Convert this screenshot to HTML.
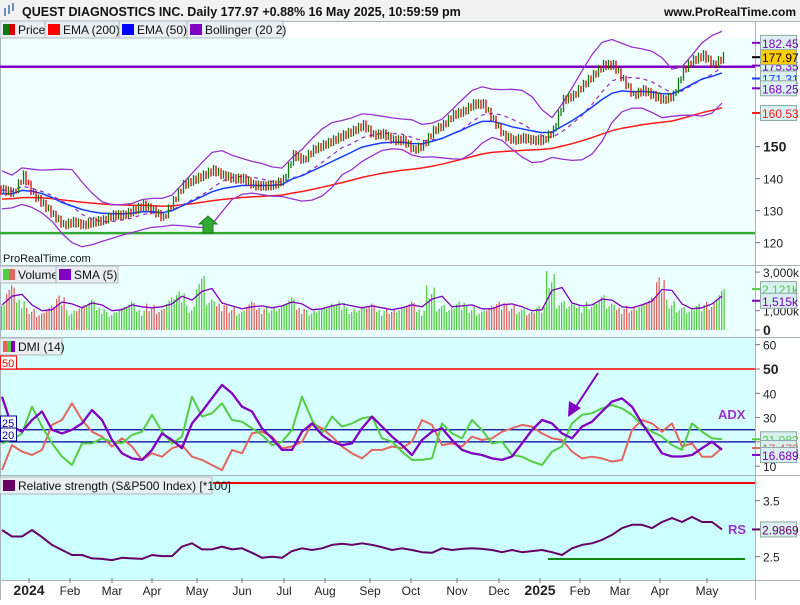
<!DOCTYPE html>
<html><head><meta charset="utf-8">
<style>
body{margin:0;background:#fff;font-family:"Liberation Sans",sans-serif;}
svg text{font-family:"Liberation Sans",sans-serif;}
</style></head>
<body>
<svg id="c" width="800" height="600" xmlns="http://www.w3.org/2000/svg">
<rect x="0" y="0" width="800" height="600" fill="#fff"/>
<rect x="0" y="0" width="800" height="21" fill="#f2f2f2"/>
<g><rect x="4" y="8" width="2" height="8" fill="#6a8fc0"/><rect x="8" y="5" width="2" height="9" fill="#6a8fc0"/><rect x="12" y="3" width="2" height="8" fill="#6a8fc0"/></g>
<text x="22" y="16" font-size="12.5" font-weight="bold" fill="#111">QUEST DIAGNOSTICS INC. Daily 177.97 +0.88% 16 May 2025, 10:59:59 pm</text>
<text x="796" y="16" font-size="12" font-weight="bold" text-anchor="end" fill="#111">www.ProRealTime.com</text>
<rect x="0" y="38" width="755" height="228" fill="#f0ffff"/>
<rect x="0" y="266" width="755" height="72" fill="#eaffff"/>
<rect x="0" y="338" width="755" height="138" fill="#d6ffff"/>
<rect x="0" y="476" width="755" height="104" fill="#ccffff"/>
<g stroke="#a8b4b8" stroke-width="1"><line x1="0" y1="265.5" x2="800" y2="265.5"/><line x1="0" y1="337.5" x2="800" y2="337.5"/><line x1="0" y1="475.5" x2="800" y2="475.5"/><line x1="0" y1="580.5" x2="800" y2="580.5"/><line x1="755.5" y1="21" x2="755.5" y2="600"/><line x1="0.5" y1="21" x2="0.5" y2="600"/><line x1="0" y1="21.5" x2="800" y2="21.5"/></g>
<g id="plot"></g>
<g id="axes"></g>
</svg>
<script>
// ---- data ----
const priceClose=[136.5,135.5,141,135,132,128.6,125.5,126.5,125.5,126.5,127,128.6,128.6,130,131.8,130,127.7,133,138,139.6,141,142.7,141,140,140,138,137.7,138,139.6,147.4,145.8,149,150.5,152,153.6,155,156.8,153.6,154,152,152,149,150.5,155,156.8,160,161,163.3,163.3,158.3,153.6,152,152.7,152,152,155,164.6,166,169.3,172.4,175.5,175.5,170.8,166,167.7,166,164.6,166,174,177,178.6,175.5,177.97];
const volumeK=[1300,2200,1500,1100,900,1200,1700,1000,1300,1500,1100,900,1200,1400,1000,1300,1100,1600,1900,1200,2800,1500,1300,1200,1000,1400,1100,1200,1300,1600,1100,1000,1200,1300,1400,1100,1200,1300,1000,1100,1200,1400,1000,2200,1300,1100,1400,1200,1000,1200,1400,1300,1100,900,1200,2900,1500,1300,1200,1400,1800,1300,1100,1200,1400,1600,2600,1500,1200,1000,1300,1400,2121];
const adx=[38.6,26.3,24.2,29,32.5,25,23.5,25,27.6,33.1,29,20.8,15.3,13.2,12.6,16.7,23.5,20.8,17.4,27.6,32.5,38,43.4,40,34.5,32.5,25.6,21.5,16.7,16.7,24.2,27.6,22.9,20.1,18.7,19.4,25.6,30.4,26.3,22.2,18.7,14.6,20.8,24.2,25.6,20.8,16.7,15.3,14.6,13.2,12.6,14,19.4,24.9,29,27.6,23.5,21.5,26.3,28.3,32.5,36.6,37.9,34.5,27.6,21.5,15.3,14,14,14.6,17.4,20.1,16.689];
const plusDI=[19.4,20.8,23.5,34.5,26.3,19.4,14,10.5,19.4,19.4,21.5,20.1,19.4,22.9,24.2,31.1,24.2,19.4,22.2,38.6,30.4,31.8,35.9,29,28.3,25.6,22.9,18.7,20.1,24.9,38.6,29,23.5,30.4,26.3,27.6,29.7,30.4,21.5,20.1,16,12.6,12.6,13.2,27.6,23.5,21.5,29,24.9,19.4,20.1,14.6,13.9,11.9,10.5,16,18.1,27.6,31.1,31.8,33.8,35.2,33.8,31.1,27,24.2,22.2,18.7,16.7,27.6,24.2,21.5,21.082];
const minusDI=[8.4,18.7,16,14.6,16.7,27,29,35.9,29,24.2,22.2,18.1,21.5,18.1,12.6,15.3,13.9,17.4,18.7,13.9,12.6,10.5,8.4,16.7,15.3,23.5,24.2,22.2,17.4,18.1,20.1,27.6,25.6,22.2,18.1,15.3,13.2,16.7,16.7,18.1,17.4,20.1,29,27,18.7,19.4,18.1,22.2,20.8,21.5,24.2,25.6,27,26.3,23.5,21.5,20.8,16,13.2,13.9,13.2,11.9,12.6,24.9,29,27.6,24.2,27.6,18.1,19.4,13.9,13.9,17.478];
const relStrength=[2.977,2.86,2.86,2.977,2.85,2.71,2.62,2.53,2.53,2.47,2.46,2.44,2.48,2.47,2.46,2.53,2.51,2.51,2.68,2.74,2.63,2.63,2.68,2.63,2.65,2.57,2.48,2.5,2.48,2.6,2.65,2.62,2.65,2.71,2.73,2.71,2.74,2.71,2.67,2.62,2.65,2.62,2.58,2.57,2.65,2.62,2.64,2.65,2.64,2.62,2.58,2.62,2.58,2.6,2.62,2.58,2.53,2.65,2.71,2.74,2.8,2.89,3.01,3.07,3.07,3.01,3.12,3.19,3.12,3.21,3.12,3.12,2.9869];
const monthLabels=["2024","Feb","Mar","Apr","May","Jun","Jul","Aug","Sep","Oct","Nov","Dec","2025","Feb","Mar","Apr","May"];
const monthIndex=[2.7,6.8,11,15,19.5,24,28.2,32.3,36.8,40.9,45.5,49.7,53.8,57.8,61.8,65.8,70.5];
const priceTicks=[120,130,140,150];
const volTicks=[0,1000,3000];
const dmiTicks=[10,20,30,40,50,60];
const rsTicks=[2.5,3.5];

// ---- scales ----
const X=i=>2+i*10;
const yP=v=>146.7+(150-v)*3.2;
const yV=v=>330-v*0.0193;
const yD=v=>369+(50-v)*2.43;
const yR=v=>500.7+(3.5-v)*56;
const NS="http://www.w3.org/2000/svg";
const plot=document.getElementById('plot');
const axes=document.getElementById('axes');
function mk(tag,attrs,parent){const e=document.createElementNS(NS,tag);for(const k in attrs)e.setAttribute(k,attrs[k]);(parent||plot).appendChild(e);return e;}
function poly(arr,ys,stroke,w,name,dash){const pts=[];arr.forEach((v,i)=>{if(v!=null)pts.push(X(i).toFixed(1)+','+ys(v).toFixed(1));});
const e=mk('polyline',{points:pts.join(' '),fill:'none',stroke:stroke,'stroke-width':w,'stroke-linejoin':'round'});if(dash)e.setAttribute('stroke-dasharray',dash);


return e;}

// indicators
function ema(a,n,seed){const k=2/(n+1);let e=seed;return a.map(v=>{e=v*k+e*(1-k);return e;});}
const ema50=ema(priceClose,10,135),ema200=ema(priceClose,40,133.5);
const bbMid=[],bbUp=[],bbLo=[];
let sdS=3;
priceClose.forEach((v,i)=>{const s=priceClose.slice(Math.max(0,i-5),i+1);const m=s.reduce((a,b)=>a+b,0)/s.length;const sd=Math.sqrt(s.reduce((a,b)=>a+(b-m)*(b-m),0)/s.length);sdS=sdS*0.5+Math.max(sd,1.5)*0.5;bbMid.push(m);bbUp.push(m+2.2*sdS+1);bbLo.push(m-2.2*sdS-1);});

// price panel
let hl=mk('line',{x1:0,y1:yP(175),x2:755,y2:yP(175),stroke:'#8000c0','stroke-width':2.5});


let gl=mk('line',{x1:0,y1:yP(123),x2:755,y2:yP(123),stroke:'#33aa33','stroke-width':2.5});


poly(ema200,yP,'#ff1a1a',1.5,'ema-200-line');
poly(bbUp,yP,'#9933cc',1.3,'bollinger-upper');
poly(bbLo,yP,'#9933cc',1.3,'bollinger-lower');
poly(bbMid,yP,'#9933cc',1.3,'bollinger-middle','4,4');
poly(ema50,yP,'#1a3cff',1.5,'ema-50-line');
priceClose.forEach((c,i)=>{const o=i?priceClose[i-1]:c;
for(let d=0;d<4;d++){const t=(d+1)/4;const v=o+(c-o)*t+((d%2)?0.8:-0.8);const pv=o+(c-o)*(d/4)+((d%2)?-0.6:0.6);const hi=Math.max(v,pv)+0.8,lo=Math.min(v,pv)-0.8;
const col=v>=pv?'#117711':'#dd0000';
const b=mk('line',{x1:X(i)-6+d*2.5,x2:X(i)-6+d*2.5,y1:yP(hi),y2:yP(lo),stroke:col,'stroke-width':1.3});

}});
let arrow=mk('path',{d:'M203,233 L203,224 L199,224 L208,216 L217,224 L213,224 L213,233 Z',fill:'#33aa33',stroke:'#227722'});


mk('text',{x:3,y:262,'font-size':11,fill:'#111'}).textContent='ProRealTime.com';

// volume
volumeK.forEach((v,i)=>{const up=i==0||priceClose[i]>=priceClose[i-1];const col=up?'#55cc44':'#e06660';
for(let d=0;d<4;d++){const vv=v*(0.75+0.1*((i+d)%4));const b=mk('rect',{x:X(i)-6+d*2.5,y:yV(d==3?v:vv),width:1.3,height:330-yV(d==3?v:vv),fill:col});

}});
const volSma=volumeK.map((v,i)=>{const s=volumeK.slice(Math.max(0,i-1),i+1);return s.reduce((a,b)=>a+b,0)/s.length;});
poly(volSma,yV,'#8000c0',1.3,'volume-sma-line');

// DMI
let l50=mk('line',{x1:0,y1:yD(50),x2:755,y2:yD(50),stroke:'#ff0000','stroke-width':1.5});


[25,20].forEach(v=>{const l=mk('line',{x1:0,y1:yD(v),x2:755,y2:yD(v),stroke:'#000099','stroke-width':1.3});

});
poly(minusDI,yD,'#e06660',2,'minus-di-line');
poly(plusDI,yD,'#55cc44',2,'plus-di-line');
poly(adx,yD,'#8000c0',2.3,'adx-line');
let pa=mk('g',{});


mk('line',{x1:598,y1:373,x2:575,y2:408,stroke:'#8000c0','stroke-width':2},pa);
mk('path',{d:'M568,417 L569,401 L581,408 Z',fill:'#8000c0'},pa);
mk('text',{x:718,y:419,'font-size':13,'font-weight':'bold',fill:'#9933cc'}).textContent='ADX';

// RS
let rl=mk('line',{x1:213,y1:483,x2:755,y2:483,stroke:'#ee0000','stroke-width':2});


let rg=mk('line',{x1:548,y1:559,x2:745,y2:559,stroke:'#118811','stroke-width':2});


poly(relStrength,yR,'#660066',2,'rs-line');
mk('text',{x:728,y:534,'font-size':13,'font-weight':'bold',fill:'#9933cc'}).textContent='RS';

// axes
function tick(y,label,bold){mk('line',{x1:755,x2:760,y1:y,y2:y,stroke:'#777'},axes);
const t=mk('text',{x:763,y:y+5,'font-size':bold?14:12,'font-weight':bold?'bold':'normal',fill:'#222'},axes);t.textContent=label;

}
priceTicks.forEach(v=>tick(yP(v),String(v),v==150));
volTicks.forEach(v=>tick(yV(v),v==0?'0':(v/1000).toLocaleString('en-US')+',000k',v==0));
dmiTicks.forEach(v=>tick(yD(v),String(v),v==50));
rsTicks.forEach(v=>tick(yR(v),String(v),false));
monthLabels.forEach((m,i)=>{const x=X(monthIndex[i]);const bold=/^20/.test(m);
mk('line',{x1:x,x2:x,y1:578,y2:583,stroke:'#777'},axes);
const t=mk('text',{x:x,y:595,'font-size':bold?14:12,'font-weight':bold?'bold':'normal','text-anchor':'middle',fill:'#222'},axes);t.textContent=m;

});
function vbox(y,txt,col,bg){const g=mk('g',{},axes);mk('line',{x1:752,x2:760,y1:y,y2:y,stroke:col,'stroke-width':2},g);
mk('rect',{x:760.5,y:y-7.5,width:36,height:15,fill:bg||'#d8f0f0',stroke:'#90a8a8'},g);
const t=mk('text',{x:762,y:y+5,'font-size':12,fill:col},g);t.textContent=txt;

}
vbox(yP(182.45),'182.45','#8000c0');
vbox(yP(175.35),'175.35','#8000c0');
vbox(yP(177.97),'177.97','#000','#ffcc00');
vbox(yP(171.31),'171.31','#1a3cff');
vbox(yP(168.25),'168.25','#8000c0');
vbox(yP(160.53),'160.53','#ff1a1a');
vbox(yV(2121),'2,121k','#55cc44');
vbox(yV(1515),'1,515k','#8000c0');
vbox(yD(21.08),'21.082','#55cc44');
vbox(yD(17.48),'17.478','#e06660');
vbox(yD(16.69)+5,'16.689','#8000c0');
vbox(yR(2.9869),'2.9869','#660066');

// legends
function legend(x,y,items,name){items.forEach(it=>{const g=mk('g',{},axes);
mk('rect',{x:x,y:y,width:it.w,height:17,fill:'#e8eef2',stroke:'#b0b8c0'},g);
it.c.forEach((c,j)=>mk('rect',{x:x+3+j*(12/it.c.length),y:y+3,width:12/it.c.length,height:11,fill:c},g));
const t=mk('text',{x:x+18,y:y+13,'font-size':12,fill:'#111'},g);t.textContent=it.t;

x+=it.w;});}
legend(0,21,[{t:'Price',c:['#117711','#dd0000'],w:45},{t:'EMA (200)',c:['#ff0000'],w:74},{t:'EMA (50)',c:['#0000ff'],w:68},{t:'Bollinger (20 2)',c:['#8000c0'],w:96}],'legend-entry');
legend(0,266,[{t:'Volume',c:['#55cc44','#e06660'],w:56},{t:'SMA (5)',c:['#8000c0'],w:62}],'volume-legend-entry');
legend(0,338,[{t:'DMI (14)',c:['#e06660','#55cc44','#8000c0'],w:62}],'dmi-legend');
legend(0,477,[{t:'Relative strength (S&P500 Index) [*100]',c:['#660066'],w:212}],'rs-legend');
function lbox(y,t,col){const g=mk('g',{},axes);mk('rect',{x:0.5,y:y-7,width:16,height:13,fill:'#fff',stroke:col},g);
const e=mk('text',{x:2,y:y+4,'font-size':11,fill:col},g);e.textContent=t;

}
lbox(363,'50','#ff0000');lbox(423,'25','#000099');lbox(435,'20','#000099');
</script>
</body></html>
